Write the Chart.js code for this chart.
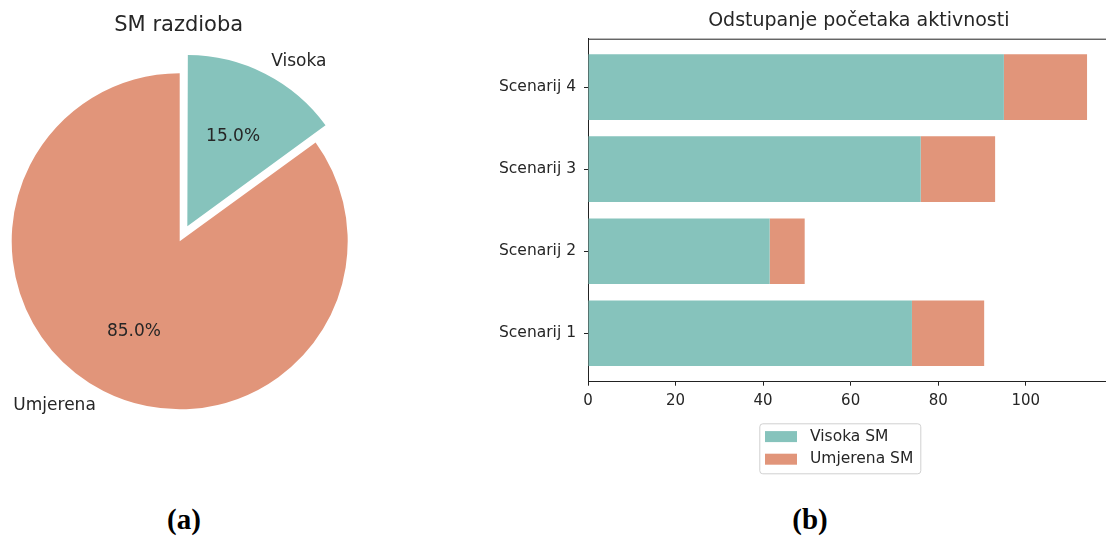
<!DOCTYPE html>
<html>
<head>
<meta charset="utf-8">
<script src="https://cdn.jsdelivr.net/npm/chart.js@4"></script>
<style>
  html, body { margin: 0; padding: 0; background: #fff; overflow: hidden; }
  body { width: 1106px; height: 538px; position: relative; }
  #pieCanvas { position: absolute; left: -40px; top: 0; }
  #barCanvas { position: absolute; left: 440px; top: 0; }
  .caption {
    position: absolute; top: 503px; width: 80px; text-align: center;
    font: bold 29px "Liberation Serif", "Times New Roman", serif; color: #000;
  }
</style>
</head>
<body>
<canvas id="pieCanvas" width="440" height="460" style="width:440px;height:460px"></canvas>
<canvas id="barCanvas" width="700" height="490" style="width:700px;height:490px"></canvas>
<div class="caption" style="left:144px">(a)</div>
<div class="caption" style="left:770px">(b)</div>

<script>
// pie: share of SM levels
const smLabels = ["Visoka", "Umjerena"];
const smShare = [15, 85];

// bars: deviation of activity starts per scenario
const scenariji = ["Scenarij 1", "Scenarij 2", "Scenarij 3", "Scenarij 4"];
const visokaSM = [74, 41.5, 76, 95];
const umjerenaSM = [16.5, 8, 17, 19];
const xTicks = [0, 20, 40, 60, 80, 100];

const teal = "#86C3BC";
const salmon = "#E1957A";
const textColor = "#262626";
const font = "DejaVu Sans";

Chart.defaults.font.family = font;
Chart.defaults.color = textColor;
Chart.defaults.animation = false;

// ---------- (a) pie ----------
const explodePx = 16.8;

const pieText = {
  id: "pieText",
  afterDatasetsDraw(chart) {
    const ctx = chart.ctx;
    const arcs = chart.getDatasetMeta(0).data;
    const total = smShare.reduce((a, b) => a + b, 0);
    ctx.save();
    ctx.fillStyle = textColor;
    arcs.forEach((arc, i) => {
      const p = arc.getProps(["x", "y", "startAngle", "endAngle", "outerRadius"], true);
      const mid = (p.startAngle + p.endAngle) / 2;
      const shift = (arc.options.offset || 0) / 4;
      const cx = p.x + Math.cos(mid) * shift;
      const cy = p.y + Math.sin(mid) * shift;
      ctx.textBaseline = "middle";
      ctx.font = "17px '" + font + "'";
      ctx.textAlign = Math.cos(mid) > 0 ? "left" : "right";
      ctx.fillText(smLabels[i], cx + Math.cos(mid) * p.outerRadius * 1.1, cy + Math.sin(mid) * p.outerRadius * 1.1);
      ctx.textAlign = "center";
      const pct = (smShare[i] / total * 100).toFixed(1) + "%";
      ctx.fillText(pct, cx + Math.cos(mid) * p.outerRadius * 0.6, cy + Math.sin(mid) * p.outerRadius * 0.6);
    });
    // title
    const a = chart.chartArea;
    ctx.font = "21px '" + font + "'";
    ctx.textAlign = "center";
    ctx.textBaseline = "alphabetic";
    ctx.fillText("SM razdioba", (a.left + a.right) / 2 - 1, 31);
    ctx.restore();
  }
};

new Chart(document.getElementById("pieCanvas"), {
  type: "pie",
  data: {
    labels: smLabels,
    datasets: [{
      data: smShare,
      backgroundColor: [teal, salmon],
      borderWidth: 0,
      offset: [explodePx * 4, 0],
      hoverOffset: 0
    }]
  },
  options: {
    responsive: false,
    events: [],
    radius: 168,
    layout: { padding: { left: 16.7, right: 17.3, top: 38.3, bottom: 15.7 } },
    plugins: { legend: { display: false }, tooltip: { enabled: false }, title: { display: false } }
  },
  plugins: [pieText]
});

// ---------- (b) stacked horizontal bars ----------
// x limit: largest stack plus 5% margin
const totals = visokaSM.map((v, i) => v + umjerenaSM[i]);
const xMax = Math.max(...totals) * 1.05;

const barDecor = {
  id: "barDecor",
  afterDraw(chart) {
    const ctx = chart.ctx;
    const a = chart.chartArea;
    ctx.save();
    // top spine
    ctx.strokeStyle = "#222";
    ctx.lineWidth = 1;
    ctx.beginPath();
    ctx.moveTo(a.left, a.top + 0.5);
    ctx.lineTo(a.right, a.top + 0.5);
    ctx.stroke();

    // title
    ctx.fillStyle = textColor;
    ctx.font = "19px '" + font + "'";
    ctx.textAlign = "center";
    ctx.textBaseline = "alphabetic";
    ctx.fillText("Odstupanje početaka aktivnosti", a.left + 270.8, 26);

    // legend box under the axis
    const lx = a.left + 171.3, ly = a.bottom + 41.6, lw = 161, lh = 50;
    ctx.fillStyle = "rgba(255,255,255,0.8)";
    ctx.strokeStyle = "#d0d0d0";
    ctx.beginPath();
    ctx.roundRect(lx + 0.5, ly + 0.5, lw, lh, 3);
    ctx.fill();
    ctx.stroke();
    ctx.font = "15.5px '" + font + "'";
    ctx.textAlign = "left";
    ctx.textBaseline = "middle";
    chart.data.datasets.forEach((ds, i) => {
      const cy = ly + 13.3 + i * 22.6;
      ctx.fillStyle = ds.backgroundColor;
      ctx.fillRect(lx + 5.7, cy - 5.5, 32, 11);
      ctx.fillStyle = textColor;
      ctx.fillText(ds.label, lx + 50.7, cy);
    });
    ctx.restore();
  }
};

const toPoints = (vals) => vals.map((v, i) => ({ x: v, y: i }));

new Chart(document.getElementById("barCanvas"), {
  type: "bar",
  data: {
    datasets: [
      { label: "Visoka SM", data: toPoints(visokaSM), backgroundColor: teal, borderWidth: 0 },
      { label: "Umjerena SM", data: toPoints(umjerenaSM), backgroundColor: salmon, borderWidth: 0 }
    ]
  },
  options: {
    responsive: false,
    events: [],
    indexAxis: "y",
    barPercentage: 0.8,
    categoryPercentage: 1,
    layout: { padding: { left: 0, right: 28, top: 38.7, bottom: 78.3 } },
    scales: {
      x: {
        type: "linear",
        stacked: true,
        min: 0,
        max: xMax,
        afterFit: (s) => { s.height = 30; },
        afterBuildTicks: (s) => { s.ticks = xTicks.map((v) => ({ value: v })); },
        ticks: { padding: 6, color: textColor, font: { size: 15 }, callback: (v) => String(v) },
        grid: { drawOnChartArea: false, drawTicks: true, tickLength: 4, color: "#222" },
        border: { display: true, color: "#222", width: 1 }
      },
      y: {
        type: "linear",
        stacked: true,
        offset: false,
        min: -0.59,
        max: 3.59,
        afterFit: (s) => { s.width = 148; },
        afterBuildTicks: (s) => { s.ticks = scenariji.map((_, i) => ({ value: i })); },
        ticks: {
          padding: 8,
          color: textColor,
          font: { size: 15.5 },
          callback: (v) => scenariji[v] ?? ""
        },
        grid: { offset: false, drawOnChartArea: false, drawTicks: true, tickLength: 4, color: "#222" },
        border: { display: true, color: "#222", width: 1 }
      }
    },
    plugins: { legend: { display: false }, tooltip: { enabled: false }, title: { display: false } }
  },
  plugins: [barDecor]
});
</script>
</body>
</html>
